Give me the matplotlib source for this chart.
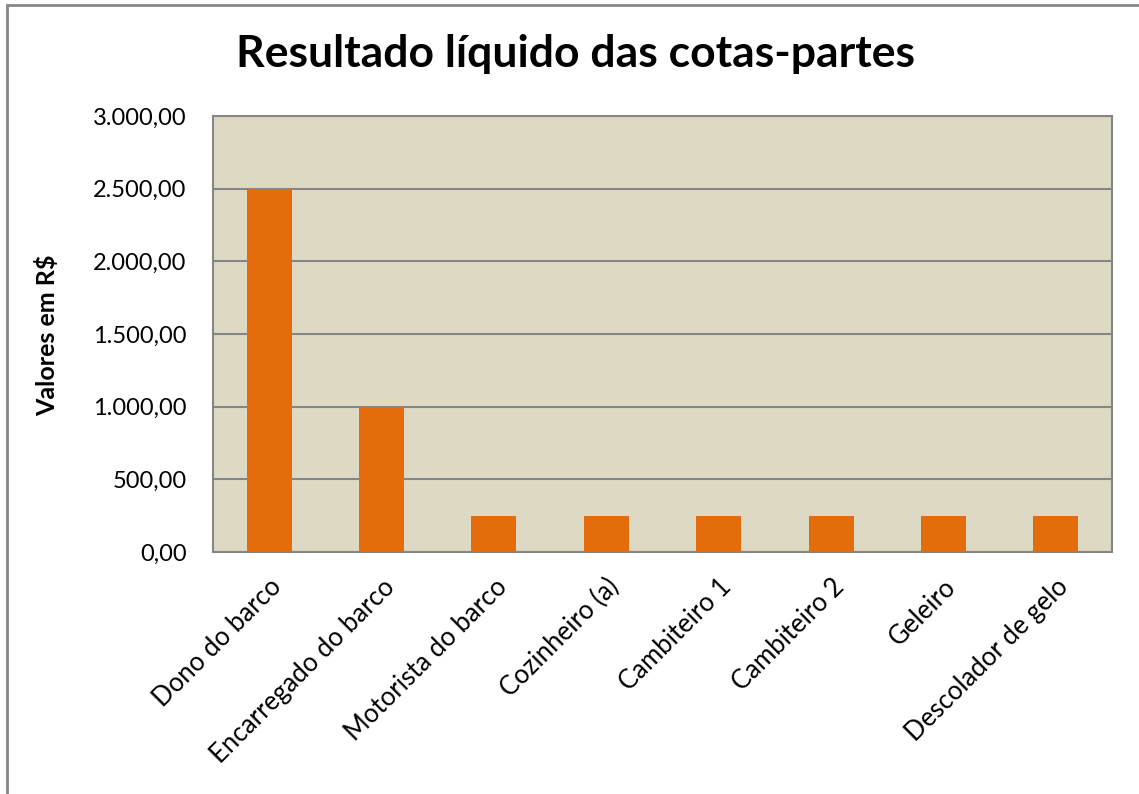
import matplotlib
matplotlib.use("Agg")
import matplotlib.pyplot as plt
from matplotlib.patches import Rectangle
from matplotlib.ticker import FuncFormatter

categories = ["Dono do barco", "Encarregado do barco", "Motorista do barco",
              "Cozinheiro (a)", "Cambiteiro 1", "Cambiteiro 2", "Geleiro",
              "Descolador de gelo"]
values = [2500, 1000, 250, 250, 250, 250, 250, 250]
yticks = [0, 500, 1000, 1500, 2000, 2500, 3000]

plt.rcParams['font.family'] = ['Lato', 'DejaVu Sans']

W, H = 1139, 794
fig = plt.figure(figsize=(W/100, H/100), dpi=100)
ax = fig.add_axes([213/W, 1-552/H, (1112-213)/W, (552-116)/H])

ax.set_facecolor('#DDD9C3')
ax.bar(range(len(categories)), values, width=0.4, color='#E46C0A', zorder=3)
ax.set_xlim(-0.5, len(categories)-0.5)
ax.set_ylim(0, 3000)
ax.set_yticks(yticks)
ax.yaxis.set_major_formatter(FuncFormatter(
    lambda v, p: f"{v:,.2f}".replace(",", "X").replace(".", ",").replace("X", ".")))
ax.grid(axis='y', color='#868686', linewidth=1.5, zorder=1)
for s in ax.spines.values():
    s.set_color('#868686')
    s.set_linewidth(1.5)
ax.tick_params(axis='y', length=0, labelsize=17, pad=19)
ax.tick_params(axis='x', length=0, labelsize=18.5, pad=16)
ax.set_xticks(range(len(categories)))
ax.set_xticklabels(categories, rotation=45, ha='right', rotation_mode='anchor')
ax.set_ylabel("Valores em R$", fontsize=18, fontweight='bold')
ax.yaxis.set_label_coords(59/W, 1-335/H, transform=fig.transFigure)

fig.text(575/W, 1-54/H, "Resultado líquido das cotas-partes", fontsize=32,
         fontweight='bold', ha='center', va='center')

fig.patches.append(Rectangle((7/W, -0.1), 1.2, 1 - 5/H + 0.1, transform=fig.transFigure,
                             fill=False, edgecolor='#868686', linewidth=2))

fig.savefig("out.png", dpi=100)
